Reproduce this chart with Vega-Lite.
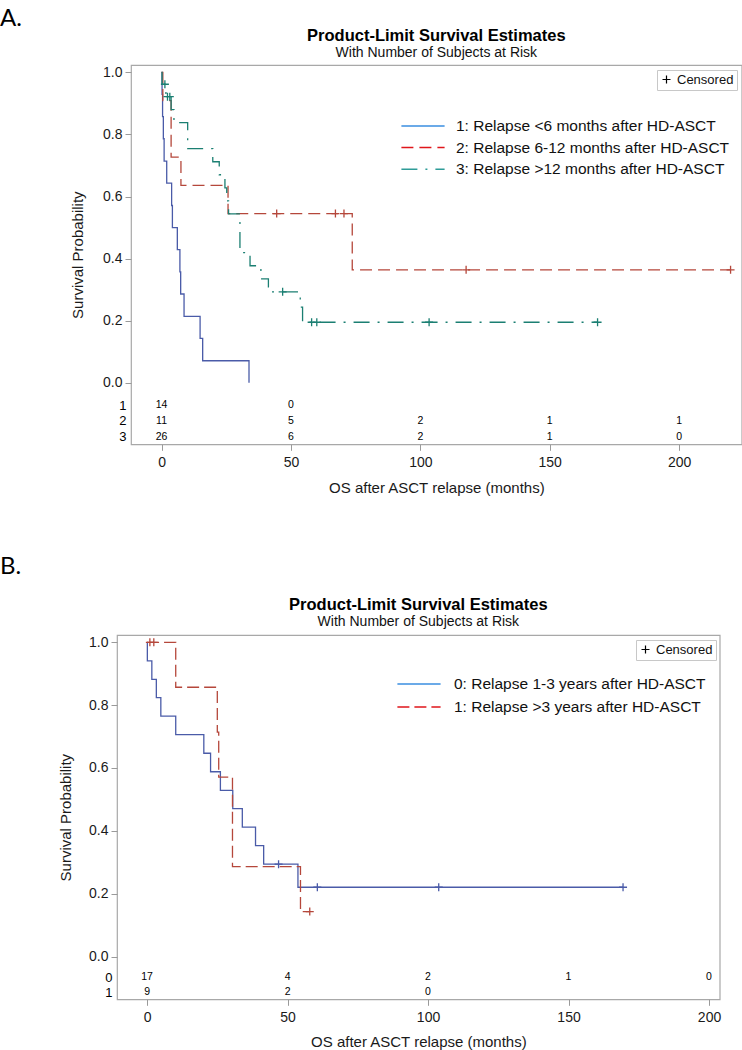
{
  "$schema": "https://vega.github.io/schema/vega-lite/v6.json",
  "padding": {"left": 0, "top": 6, "right": 0, "bottom": 0},
  "background": "white",
  "config": {
    "font": "Liberation Sans",
    "view": {"stroke": "#a8a8a8", "strokeWidth": 1.2},
    "axis": {"grid": false, "domain": false, "tickColor": "#9a9a9a", "tickSize": 6, "tickWidth": 1,
             "labelFontSize": 14, "labelColor": "#1a1a1a", "labelFont": "Liberation Sans",
             "titleFontSize": 15, "titleFontWeight": "normal", "titleColor": "#1a1a1a", "titleFont": "Liberation Sans"},
    "legend": {"labelFont": "Liberation Sans", "labelColor": "#111111", "padding": 0, "labelLimit": 400},
    "title": {"color": "#000000"}
  },
  "datasets": {
    "curvesA": [
      {"g": "1: Relapse <6 months after HD-ASCT", "t": 0, "s": 1},
      {"g": "1: Relapse <6 months after HD-ASCT", "t": 0.2, "s": 0.929},
      {"g": "1: Relapse <6 months after HD-ASCT", "t": 0.4, "s": 0.857},
      {"g": "1: Relapse <6 months after HD-ASCT", "t": 0.7, "s": 0.786},
      {"g": "1: Relapse <6 months after HD-ASCT", "t": 1.0, "s": 0.714},
      {"g": "1: Relapse <6 months after HD-ASCT", "t": 2.0, "s": 0.643},
      {"g": "1: Relapse <6 months after HD-ASCT", "t": 3.9, "s": 0.571},
      {"g": "1: Relapse <6 months after HD-ASCT", "t": 4.2, "s": 0.5},
      {"g": "1: Relapse <6 months after HD-ASCT", "t": 6.1, "s": 0.429},
      {"g": "1: Relapse <6 months after HD-ASCT", "t": 7.1, "s": 0.357},
      {"g": "1: Relapse <6 months after HD-ASCT", "t": 7.4, "s": 0.286},
      {"g": "1: Relapse <6 months after HD-ASCT", "t": 8.7, "s": 0.214},
      {"g": "1: Relapse <6 months after HD-ASCT", "t": 14.9, "s": 0.143},
      {"g": "1: Relapse <6 months after HD-ASCT", "t": 15.9, "s": 0.071},
      {"g": "1: Relapse <6 months after HD-ASCT", "t": 33.8, "s": 0},
      {"g": "2: Relapse 6-12 months after HD-ASCT", "t": 0, "s": 1},
      {"g": "2: Relapse 6-12 months after HD-ASCT", "t": 0.5, "s": 0.909},
      {"g": "2: Relapse 6-12 months after HD-ASCT", "t": 3.7, "s": 0.727},
      {"g": "2: Relapse 6-12 months after HD-ASCT", "t": 7.5, "s": 0.636},
      {"g": "2: Relapse 6-12 months after HD-ASCT", "t": 25.7, "s": 0.545},
      {"g": "2: Relapse 6-12 months after HD-ASCT", "t": 73.7, "s": 0.364},
      {"g": "2: Relapse 6-12 months after HD-ASCT", "t": 219.9, "s": 0.364},
      {"g": "3: Relapse >12 months after HD-ASCT", "t": 0, "s": 1},
      {"g": "3: Relapse >12 months after HD-ASCT", "t": 0.2, "s": 0.9615},
      {"g": "3: Relapse >12 months after HD-ASCT", "t": 1.7, "s": 0.9215},
      {"g": "3: Relapse >12 months after HD-ASCT", "t": 3.7, "s": 0.8796},
      {"g": "3: Relapse >12 months after HD-ASCT", "t": 4.8, "s": 0.8377},
      {"g": "3: Relapse >12 months after HD-ASCT", "t": 10.1, "s": 0.754},
      {"g": "3: Relapse >12 months after HD-ASCT", "t": 19.8, "s": 0.712},
      {"g": "3: Relapse >12 months after HD-ASCT", "t": 22.3, "s": 0.670},
      {"g": "3: Relapse >12 months after HD-ASCT", "t": 24.5, "s": 0.628},
      {"g": "3: Relapse >12 months after HD-ASCT", "t": 25.2, "s": 0.586},
      {"g": "3: Relapse >12 months after HD-ASCT", "t": 25.9, "s": 0.544},
      {"g": "3: Relapse >12 months after HD-ASCT", "t": 30.3, "s": 0.419},
      {"g": "3: Relapse >12 months after HD-ASCT", "t": 34.2, "s": 0.377},
      {"g": "3: Relapse >12 months after HD-ASCT", "t": 38.4, "s": 0.335},
      {"g": "3: Relapse >12 months after HD-ASCT", "t": 41.3, "s": 0.293},
      {"g": "3: Relapse >12 months after HD-ASCT", "t": 53.6, "s": 0.244},
      {"g": "3: Relapse >12 months after HD-ASCT", "t": 54.5, "s": 0.195},
      {"g": "3: Relapse >12 months after HD-ASCT", "t": 168.5, "s": 0.195}
    ],
    "censorsA": [
      {"g": "2: Relapse 6-12 months after HD-ASCT", "t": 44.5, "s": 0.545, "status": "Censored"},
      {"g": "2: Relapse 6-12 months after HD-ASCT", "t": 67.2, "s": 0.545, "status": "Censored"},
      {"g": "2: Relapse 6-12 months after HD-ASCT", "t": 70.5, "s": 0.545, "status": "Censored"},
      {"g": "2: Relapse 6-12 months after HD-ASCT", "t": 117.7, "s": 0.364, "status": "Censored"},
      {"g": "2: Relapse 6-12 months after HD-ASCT", "t": 219.9, "s": 0.364, "status": "Censored"},
      {"g": "3: Relapse >12 months after HD-ASCT", "t": 1.3, "s": 0.9615, "status": "Censored"},
      {"g": "3: Relapse >12 months after HD-ASCT", "t": 2.3, "s": 0.9215, "status": "Censored"},
      {"g": "3: Relapse >12 months after HD-ASCT", "t": 3.2, "s": 0.9215, "status": "Censored"},
      {"g": "3: Relapse >12 months after HD-ASCT", "t": 46.8, "s": 0.293, "status": "Censored"},
      {"g": "3: Relapse >12 months after HD-ASCT", "t": 58.0, "s": 0.195, "status": "Censored"},
      {"g": "3: Relapse >12 months after HD-ASCT", "t": 60.0, "s": 0.195, "status": "Censored"},
      {"g": "3: Relapse >12 months after HD-ASCT", "t": 103.4, "s": 0.195, "status": "Censored"},
      {"g": "3: Relapse >12 months after HD-ASCT", "t": 168.5, "s": 0.195, "status": "Censored"}
    ],
    "riskA": [
      {"row": "1", "t": 0, "n": 14}, {"row": "1", "t": 50, "n": 0},
      {"row": "2", "t": 0, "n": 11}, {"row": "2", "t": 50, "n": 5}, {"row": "2", "t": 100, "n": 2}, {"row": "2", "t": 150, "n": 1}, {"row": "2", "t": 200, "n": 1},
      {"row": "3", "t": 0, "n": 26}, {"row": "3", "t": 50, "n": 6}, {"row": "3", "t": 100, "n": 2}, {"row": "3", "t": 150, "n": 1}, {"row": "3", "t": 200, "n": 0}
    ],
    "curvesB": [
      {"g": "0: Relapse 1-3 years after HD-ASCT", "t": 0, "s": 1},
      {"g": "0: Relapse 1-3 years after HD-ASCT", "t": 0.1, "s": 0.941},
      {"g": "0: Relapse 1-3 years after HD-ASCT", "t": 1.7, "s": 0.882},
      {"g": "0: Relapse 1-3 years after HD-ASCT", "t": 3.3, "s": 0.824},
      {"g": "0: Relapse 1-3 years after HD-ASCT", "t": 4.9, "s": 0.765},
      {"g": "0: Relapse 1-3 years after HD-ASCT", "t": 10.2, "s": 0.706},
      {"g": "0: Relapse 1-3 years after HD-ASCT", "t": 20.2, "s": 0.647},
      {"g": "0: Relapse 1-3 years after HD-ASCT", "t": 22.6, "s": 0.588},
      {"g": "0: Relapse 1-3 years after HD-ASCT", "t": 26.1, "s": 0.529},
      {"g": "0: Relapse 1-3 years after HD-ASCT", "t": 30.5, "s": 0.471},
      {"g": "0: Relapse 1-3 years after HD-ASCT", "t": 33.9, "s": 0.412},
      {"g": "0: Relapse 1-3 years after HD-ASCT", "t": 38.6, "s": 0.353},
      {"g": "0: Relapse 1-3 years after HD-ASCT", "t": 41.5, "s": 0.294},
      {"g": "0: Relapse 1-3 years after HD-ASCT", "t": 53.7, "s": 0.2205},
      {"g": "0: Relapse 1-3 years after HD-ASCT", "t": 169.4, "s": 0.2205},
      {"g": "1: Relapse >3 years after HD-ASCT", "t": 0, "s": 1},
      {"g": "1: Relapse >3 years after HD-ASCT", "t": 10.2, "s": 0.857},
      {"g": "1: Relapse >3 years after HD-ASCT", "t": 25.0, "s": 0.714},
      {"g": "1: Relapse >3 years after HD-ASCT", "t": 25.5, "s": 0.571},
      {"g": "1: Relapse >3 years after HD-ASCT", "t": 30.4, "s": 0.286},
      {"g": "1: Relapse >3 years after HD-ASCT", "t": 54.6, "s": 0.143},
      {"g": "1: Relapse >3 years after HD-ASCT", "t": 57.9, "s": 0.143}
    ],
    "censorsB": [
      {"g": "0: Relapse 1-3 years after HD-ASCT", "t": 46.8, "s": 0.294, "status": "Censored"},
      {"g": "0: Relapse 1-3 years after HD-ASCT", "t": 60.6, "s": 0.2205, "status": "Censored"},
      {"g": "0: Relapse 1-3 years after HD-ASCT", "t": 103.8, "s": 0.2205, "status": "Censored"},
      {"g": "0: Relapse 1-3 years after HD-ASCT", "t": 169.4, "s": 0.2205, "status": "Censored"},
      {"g": "1: Relapse >3 years after HD-ASCT", "t": 1.0, "s": 1, "status": "Censored"},
      {"g": "1: Relapse >3 years after HD-ASCT", "t": 2.4, "s": 1, "status": "Censored"},
      {"g": "1: Relapse >3 years after HD-ASCT", "t": 57.9, "s": 0.143, "status": "Censored"}
    ],
    "riskB": [
      {"row": "0", "t": 0, "n": 17}, {"row": "0", "t": 50, "n": 4}, {"row": "0", "t": 100, "n": 2}, {"row": "0", "t": 150, "n": 1}, {"row": "0", "t": 200, "n": 0},
      {"row": "1", "t": 0, "n": 9}, {"row": "1", "t": 50, "n": 2}, {"row": "1", "t": 100, "n": 0}
    ],
    "spacer": [{"k": 0}]
  },
  "columns": 1,
  "spacing": 58,
  "resolve": {
    "scale": {"color": "independent", "strokeDash": "independent", "shape": "independent", "x": "independent", "y": "independent"},
    "legend": {"color": "independent", "strokeDash": "independent", "shape": "independent"}
  },
  "concat": [
    {
      "title": {"text": "A.", "anchor": "start", "frame": "group", "font": "Lato", "fontSize": 24, "fontWeight": "normal", "offset": -4, "dx": -117},
      "spacing": 0,
      "bounds": "flush",
      "hconcat": [
        {
          "width": 14,
          "height": 10,
          "view": {"stroke": null},
          "data": {"name": "spacer"},
          "mark": {"type": "point", "opacity": 0},
          "encoding": {}
        },
        {
          "width": 610.7,
          "height": 379.3,
          "title": {"text": "Product-Limit Survival Estimates", "subtitle": "With Number of Subjects at Risk", "anchor": "middle", "frame": "group",
                    "font": "Liberation Sans", "fontSize": 16.5, "fontWeight": "bold", "subtitleFont": "Liberation Sans", "subtitleFontSize": 14,
                    "subtitleColor": "#111111", "subtitlePadding": 2, "offset": 5},
          "layer": [
            {
              "layer": [
                {
                  "data": {"name": "curvesA"},
                  "mark": {"type": "line", "interpolate": "step-after", "strokeWidth": 1.3},
                  "encoding": {
                    "x": {"field": "t", "type": "quantitative", "scale": {"domain": [-11.8, 224.2], "nice": false, "zero": false},
                          "axis": {"values": [0, 50, 100, 150, 200], "title": "OS after ASCT relapse (months)", "labelPadding": 5, "titlePadding": 11}},
                    "y": {"field": "s", "type": "quantitative", "scale": {"domain": [-0.198, 1.0235], "nice": false, "zero": false},
                          "axis": {"values": [0, 0.2, 0.4, 0.6, 0.8, 1], "format": ".1f", "title": "Survival Probability", "labelPadding": 3, "titlePadding": 17}},
                    "color": {"field": "g", "type": "nominal",
                              "scale": {"range": ["#4a5ba8", "#b5473b", "#1b7f72"]}, "legend": null},
                    "strokeDash": {"field": "g", "type": "nominal",
                                   "scale": {"domain": ["1: Relapse <6 months after HD-ASCT", "2: Relapse 6-12 months after HD-ASCT", "3: Relapse >12 months after HD-ASCT"],
                                             "range": [[1, 0], [12, 6], [16, 8, 2, 8]]},
                                   "legend": {"title": null, "orient": "none", "legendX": 297, "legendY": 52, "labelFontSize": 15.5, "labelOffset": 24, "labelLimit": 400,
                                              "symbolType": "M-2.7,0H2.7", "symbolSize": 256, "symbolStrokeWidth": 1.5, "rowPadding": 3.6,
                                              "symbolFillColor": "transparent",
                                              "symbolStrokeColor": {"expr": "datum.index === 0 ? '#3a8ee0' : datum.index === 1 ? '#e0161b' : '#2e9c98'"}}}
                  }
                },
                {
                  "data": {"name": "censorsA"},
                  "mark": {"type": "point", "filled": false, "size": 64, "strokeWidth": 1.3, "opacity": 1},
                  "encoding": {
                    "x": {"field": "t", "type": "quantitative"},
                    "y": {"field": "s", "type": "quantitative"},
                    "color": {"field": "g", "type": "nominal", "legend": null},
                    "shape": {"field": "status", "type": "nominal", "scale": {"domain": ["Censored"], "range": ["M-1,0H1M0,-1V1"]},
                              "legend": {"title": null, "orient": "none", "legendX": 540, "legendY": 5, "labelFontSize": 13, "labelOffset": 4,
                                         "strokeColor": "#c8c8c8", "padding": 3, "fillColor": "white",
                                         "symbolStrokeColor": "#000000", "symbolFillColor": "transparent", "symbolSize": 64, "symbolStrokeWidth": 1.2}}
                  }
                }
              ]
            },
            {
              "data": {"name": "riskA"},
              "mark": {"type": "text", "fontSize": 10.5, "color": "#000000", "font": "Liberation Sans"},
              "encoding": {
                "x": {"field": "t", "type": "quantitative"},
                "y": {"field": "row", "type": "nominal", "scale": {"type": "point", "range": [340, 371.6], "padding": 0},
                      "axis": {"orient": "left", "title": null, "ticks": false, "domain": false, "labelPadding": 5, "labelFontSize": 13, "labelColor": "#000000"}},
                "text": {"field": "n", "type": "quantitative"}
              }
            }
          ],
          "resolve": {"scale": {"y": "independent"}, "axis": {"y": "independent"}}
        }
      ]
    },
    {
      "title": {"text": "B.", "anchor": "start", "frame": "group", "font": "Lato", "fontSize": 24, "fontWeight": "normal", "offset": 17, "dx": -117},
      "vconcat": [
        {
          "width": 602.7,
          "height": 364.3,
          "title": {"text": "Product-Limit Survival Estimates", "subtitle": "With Number of Subjects at Risk", "anchor": "middle", "frame": "group",
                    "font": "Liberation Sans", "fontSize": 16.5, "fontWeight": "bold", "subtitleFont": "Liberation Sans", "subtitleFontSize": 14,
                    "subtitleColor": "#111111", "subtitlePadding": 2, "offset": 6},
          "layer": [
            {
              "layer": [
                {
                  "data": {"name": "curvesB"},
                  "mark": {"type": "line", "interpolate": "step-after", "strokeWidth": 1.3},
                  "encoding": {
                    "x": {"field": "t", "type": "quantitative", "scale": {"domain": [-10.7, 203.8], "nice": false, "zero": false},
                          "axis": {"values": [0, 50, 100, 150, 200], "title": "OS after ASCT relapse (months)", "labelPadding": 5, "titlePadding": 10}},
                    "y": {"field": "s", "type": "quantitative", "scale": {"domain": [-0.136, 1.0232], "nice": false, "zero": false},
                          "axis": {"values": [0, 0.2, 0.4, 0.6, 0.8, 1], "format": ".1f", "title": "Survival Probability", "labelPadding": 3, "titlePadding": 15}},
                    "color": {"field": "g", "type": "nominal",
                              "scale": {"range": ["#4a5ba8", "#b5473b"]}, "legend": null},
                    "strokeDash": {"field": "g", "type": "nominal",
                                   "scale": {"domain": ["0: Relapse 1-3 years after HD-ASCT", "1: Relapse >3 years after HD-ASCT"],
                                             "range": [[1, 0], [12, 5]]},
                                   "legend": {"title": null, "orient": "none", "legendX": 293, "legendY": 40, "labelFontSize": 15.5, "labelOffset": 26, "labelLimit": 400,
                                              "symbolType": "M-2.7,0H2.7", "symbolSize": 256, "symbolStrokeWidth": 1.5, "rowPadding": 5.0,
                                              "symbolFillColor": "transparent",
                                              "symbolStrokeColor": {"expr": "datum.index === 0 ? '#3a8ee0' : '#e0161b'"}}}
                  }
                },
                {
                  "data": {"name": "censorsB"},
                  "mark": {"type": "point", "filled": false, "size": 64, "strokeWidth": 1.3, "opacity": 1},
                  "encoding": {
                    "x": {"field": "t", "type": "quantitative"},
                    "y": {"field": "s", "type": "quantitative"},
                    "color": {"field": "g", "type": "nominal", "legend": null},
                    "shape": {"field": "status", "type": "nominal", "scale": {"domain": ["Censored"], "range": ["M-1,0H1M0,-1V1"]},
                              "legend": {"title": null, "orient": "none", "legendX": 519, "legendY": 5, "labelFontSize": 13, "labelOffset": 4,
                                         "strokeColor": "#c8c8c8", "padding": 3, "fillColor": "white",
                                         "symbolStrokeColor": "#000000", "symbolFillColor": "transparent", "symbolSize": 64, "symbolStrokeWidth": 1.2}}
                  }
                }
              ]
            },
            {
              "data": {"name": "riskB"},
              "mark": {"type": "text", "fontSize": 10.5, "color": "#000000", "font": "Liberation Sans"},
              "encoding": {
                "x": {"field": "t", "type": "quantitative"},
                "y": {"field": "row", "type": "nominal", "scale": {"type": "point", "range": [342.3, 357.3], "padding": 0},
                      "axis": {"orient": "left", "title": null, "ticks": false, "domain": false, "labelPadding": 5, "labelFontSize": 13, "labelColor": "#000000"}},
                "text": {"field": "n", "type": "quantitative"}
              }
            }
          ],
          "resolve": {"scale": {"y": "independent"}, "axis": {"y": "independent"}}
        }
      ]
    }
  ]
}
